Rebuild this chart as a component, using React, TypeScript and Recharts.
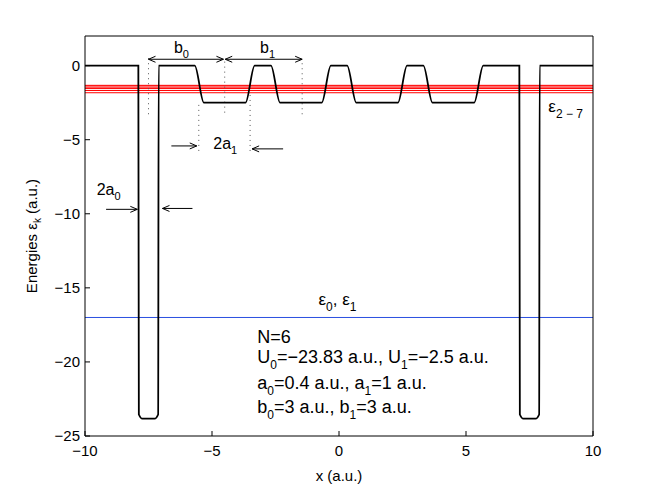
import {
  LineChart,
  Line,
  XAxis,
  YAxis,
  ReferenceLine,
  ReferenceDot,
} from "recharts";

const FONT = "'Liberation Sans', Arial, Helvetica, sans-serif";

// potential U(x): breakpoints (a.u.)
const POT_X = [
  -10, -7.9, -7.88, -7.74, -7.26, -7.12, -7.1,
  -5.68, -5.32, -3.68, -3.32, -2.68, -2.32, -0.68, -0.32,
  0.32, 0.68, 2.32, 2.68, 3.32, 3.68, 5.32, 5.68,
  7.1, 7.12, 7.26, 7.74, 7.88, 7.9, 10,
];
const POT_Y = [
  0, 0, -23.55, -23.83, -23.83, -23.55, 0,
  0, -2.5, -2.5, 0, 0, -2.5, -2.5, 0,
  0, -2.5, -2.5, 0, 0, -2.5, -2.5, 0,
  0, -23.55, -23.83, -23.83, -23.55, 0, 0,
];

// eigen-energies
const E_HIGH = [-1.33, -1.38, -1.5, -1.55, -1.68, -1.83]; // eps 2..7
const E_LOW = [-17.0]; // eps 0, eps 1

const X_TICKS = [-10, -5, 0, 5, 10];
const Y_TICKS = [-25, -20, -15, -10, -5, 0];

// annotation guides
const DOTTED = [
  { x: -7.5, top: 0.5, bottom: -3.5 },
  { x: -4.5, top: 0.27, bottom: -3.44 },
  { x: -1.45, top: 0.16, bottom: -3.55 },
  { x: -5.52, top: -2.65, bottom: -5.8 },
  { x: -3.5, top: -1.98, bottom: -5.8 },
];

const ARROWS = [
  { x1: -7.5, y1: 0.43, x2: -4.55, y2: 0.43, both: true },
  { x1: -4.48, y1: 0.43, x2: -1.45, y2: 0.43, both: true },
  { x1: -6.6, y1: -5.42, x2: -5.6, y2: -5.42, both: false },
  { x1: -2.2, y1: -5.62, x2: -3.42, y2: -5.62, both: false },
  { x1: -9.17, y1: -9.7, x2: -7.94, y2: -9.7, both: false },
  { x1: -5.77, y1: -9.64, x2: -6.95, y2: -9.64, both: false },
];

type Part = [string, boolean?];

const LABELS: { x: number; y: number; parts: Part[]; size: number; sub: number }[] = [
  { x: -6.5, y: 0.84, parts: [["b"], ["0", true]], size: 16, sub: 11 },
  { x: -3.11, y: 0.84, parts: [["b"], ["1", true]], size: 16, sub: 11 },
  { x: -4.95, y: -5.64, parts: [["2a"], ["1", true]], size: 16, sub: 11 },
  { x: -9.54, y: -8.73, parts: [["2a"], ["0", true]], size: 16, sub: 11 },
  { x: -0.81, y: -16.15, parts: [["ε"], ["0", true], [", ε"], ["1", true]], size: 17, sub: 12 },
  { x: 8.24, y: -3.1, parts: [["ε"], ["2 \u2212 7", true]], size: 17, sub: 12 },
  { x: -3.22, y: -18.72, parts: [["N=6"]], size: 18, sub: 12 },
  {
    x: -3.22, y: -20.09,
    parts: [["U"], ["0", true], ["=\u221223.83 a.u., U"], ["1", true], ["=\u22122.5 a.u."]],
    size: 18, sub: 12,
  },
  {
    x: -3.22, y: -21.84,
    parts: [["a"], ["0", true], ["=0.4 a.u., a"], ["1", true], ["=1 a.u."]],
    size: 18, sub: 12,
  },
  {
    x: -3.22, y: -23.46,
    parts: [["b"], ["0", true], ["=3 a.u., b"], ["1", true], ["=3 a.u."]],
    size: 18, sub: 12,
  },
];

const potential = POT_X.map((x, i) => ({ x, u: POT_Y[i] }));

const fmt = (v: number) => String(v).replace("-", "\u2212");

function RichText({ x, y, parts, size, sub }: any) {
  const shift = Math.round(size * 0.33);
  let cur = 0;
  return (
    <text x={x} y={y} fontSize={size} fill="#000" fontFamily={FONT}>
      {parts.map(([t, isSub]: Part, i: number) => {
        const target = isSub ? shift : 0;
        const dy = target - cur;
        cur = target;
        return (
          <tspan key={i} dy={dy} fontSize={isSub ? sub : size}>
            {t}
          </tspan>
        );
      })}
    </text>
  );
}

function head(tx: number, ty: number, fx: number, fy: number) {
  const len = Math.hypot(tx - fx, ty - fy) || 1;
  const ux = (tx - fx) / len;
  const uy = (ty - fy) / len;
  const L = 7;
  const W = 3;
  const bx = tx - ux * L;
  const by = ty - uy * L;
  return `M${bx - uy * W},${by + ux * W} L${tx},${ty} L${bx + uy * W},${by - ux * W}`;
}

const arrowShape = (both: boolean) => (p: any) => {
  const { x1, y1, x2, y2 } = p;
  return (
    <g>
      <line x1={x1} y1={y1} x2={x2} y2={y2} stroke="#000" strokeWidth={1} />
      <path d={head(x2, y2, x1, y1)} stroke="#000" strokeWidth={1} fill="none" />
      {both && <path d={head(x1, y1, x2, y2)} stroke="#000" strokeWidth={1} fill="none" />}
    </g>
  );
};

function YLabel(props: any) {
  const vb = props.viewBox || { x: 25, y: 36, width: 60, height: 400 };
  const cx = vb.x + 12;
  const cy = vb.y + vb.height / 2;
  return (
    <text
      x={cx}
      y={cy}
      transform={`rotate(-90 ${cx} ${cy})`}
      textAnchor="middle"
      fontSize={15}
      fill="#000"
      fontFamily={FONT}
    >
      <tspan>Energies ε</tspan>
      <tspan dy={4} fontSize={10}>k</tspan>
      <tspan dy={-4}> (a.u.)</tspan>
    </text>
  );
}

export default function App() {
  return (
    <div
      style={{
        position: "absolute",
        left: 0,
        top: 0,
        width: 654,
        height: 492,
        background: "#fff",
        fontFamily: FONT,
      }}
    >
      <LineChart
        width={654}
        height={492}
        data={potential}
        margin={{ top: 35, right: 60, bottom: 16, left: 25 }}
      >
        <XAxis
          dataKey="x"
          type="number"
          domain={[-10, 10]}
          ticks={X_TICKS}
          height={40}
          tickSize={-5}
          tickMargin={14}
          tickFormatter={fmt}
          tick={{ fill: "#000", fontSize: 15 }}
          tickLine={{ stroke: "#000" }}
          axisLine={{ stroke: "#000" }}
          label={{ value: "x (a.u.)", position: "insideBottom", offset: -5, fill: "#000", fontSize: 15 }}
        />
        <XAxis
          xAxisId="top"
          orientation="top"
          dataKey="x"
          type="number"
          domain={[-10, 10]}
          ticks={X_TICKS}
          height={1}
          tickSize={-5}
          tick={false}
          tickLine={{ stroke: "#000" }}
          axisLine={{ stroke: "#000" }}
        />
        <YAxis
          type="number"
          domain={[-25, 2]}
          ticks={Y_TICKS}
          width={60}
          tickSize={-5}
          tickMargin={10}
          tickFormatter={fmt}
          tick={{ fill: "#000", fontSize: 15 }}
          tickLine={{ stroke: "#000" }}
          axisLine={{ stroke: "#000" }}
          label={<YLabel />}
        />
        <YAxis
          yAxisId="right"
          orientation="right"
          type="number"
          domain={[-25, 2]}
          ticks={Y_TICKS}
          width={1}
          tickSize={-5}
          tick={false}
          tickLine={{ stroke: "#000" }}
          axisLine={{ stroke: "#000" }}
        />

        {E_HIGH.map((e) => (
          <ReferenceLine key={`h${e}`} y={e} stroke="#ff0000" strokeWidth={1} />
        ))}
        {E_LOW.map((e) => (
          <ReferenceLine key={`l${e}`} y={e} stroke="#2a4fe0" strokeWidth={1} />
        ))}

        {DOTTED.map((d, i) => (
          <ReferenceLine
            key={`d${i}`}
            segment={[
              { x: d.x, y: d.top },
              { x: d.x, y: d.bottom },
            ]}
            stroke="#555"
            strokeWidth={1}
            strokeDasharray="1 4"
          />
        ))}

        <Line
          type="monotone"
          dataKey="u"
          stroke="#000"
          strokeWidth={1.8}
          dot={false}
          activeDot={false}
          isAnimationActive={false}
        />

        {ARROWS.map((a, i) => (
          <ReferenceLine
            key={`a${i}`}
            segment={[
              { x: a.x1, y: a.y1 },
              { x: a.x2, y: a.y2 },
            ]}
            shape={arrowShape(a.both)}
          />
        ))}

        {LABELS.map((l, i) => (
          <ReferenceDot
            key={`t${i}`}
            x={l.x}
            y={l.y}
            r={0}
            shape={(p: any) => (
              <RichText x={p.cx} y={p.cy} parts={l.parts} size={l.size} sub={l.sub} />
            )}
          />
        ))}
      </LineChart>
    </div>
  );
}
